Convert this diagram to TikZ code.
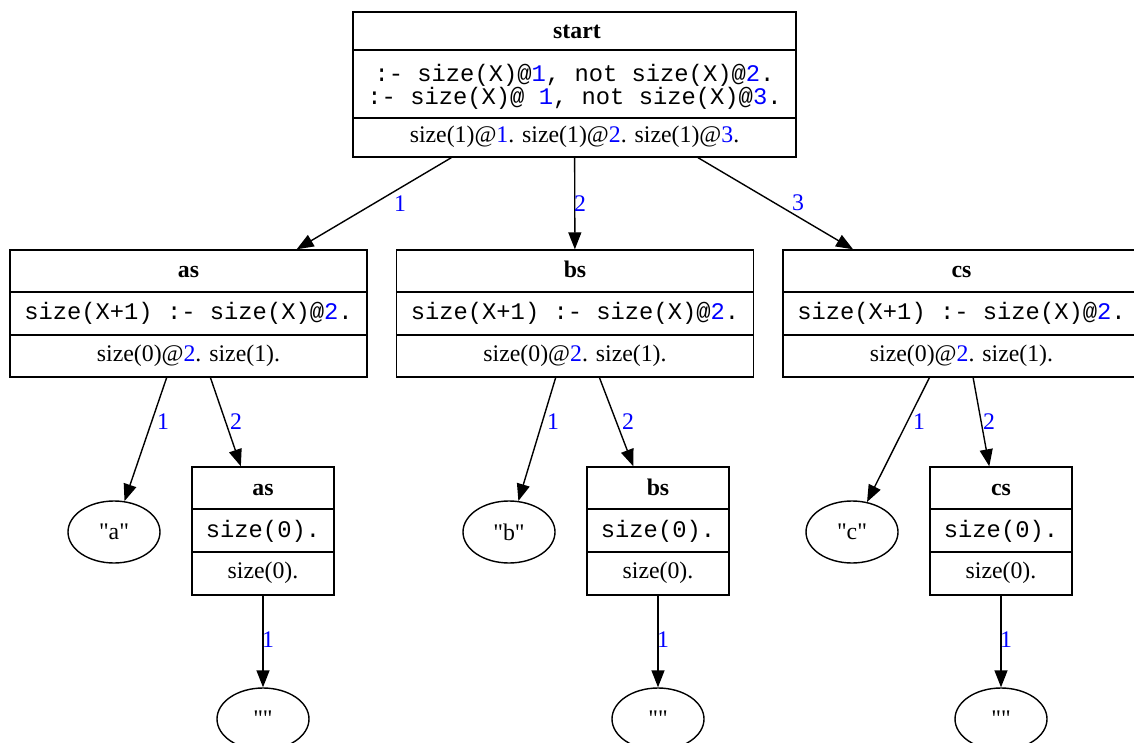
\documentclass[tikz,border=0pt]{standalone}
\usepackage{fontspec}
\setmainfont{Liberation Serif}
\setmonofont{Liberation Mono}
\newfontfamily\qfont{Liberation Serif}[Ligatures=TeXOff]
\usetikzlibrary{arrows.meta,shapes.geometric}
\newcommand\bl[1]{\textcolor{blue}{#1}}
\begin{document}
\begin{tikzpicture}[x=1pt,y=-1pt,line width=1.4pt,
  box/.style={draw,rectangle,inner sep=0pt},
  oval/.style={draw,ellipse,inner sep=0pt,minimum width=92pt,minimum height=62pt,font=\qfont\fontsize{23.8}{28}\selectfont},
  txt/.style={inner sep=0pt,font=\fontsize{23.8}{28}\selectfont},
  ttl/.style={inner sep=0pt,font=\fontsize{23.8}{28}\selectfont\bfseries},
  mono/.style={inner sep=0pt,font=\ttfamily\fontsize{23.8}{28}\selectfont},
  lbl/.style={inner sep=0pt,text=blue,font=\fontsize{23.8}{28}\selectfont},
  edge/.style={draw,-{Triangle[length=17pt,width=13pt]}}]
\useasboundingbox (0,0) rectangle (1134,743);
\clip (0,0) rectangle (1134,743);
% start box
\node[box,minimum width=443pt,minimum height=145pt] (start) at (574.5,84.5) {};
\draw (353,50) -- (796,50) (353,118) -- (796,118);
\node[ttl] (startt) at (577,32) {start};
\node[mono] (startm1) at (574.5,75) {:- size(X)@\bl{1}, not size(X)@\bl{2}.};
\node[mono] (startm2) at (574.5,98) {:- size(X)@ \bl{1}, not size(X)@\bl{3}.};
\node[txt] (startb) at (574.5,137) {size(1)@\bl{1}. size(1)@\bl{2}. size(1)@\bl{3}.};
% child boxes
\foreach \n/\cx/\l in {as/188.5/as,bs/575/bs,cs/961.5/cs}{
  \node[box,minimum width=357pt,minimum height=127pt] (\n) at (\cx,313.5) {};
  \draw (\cx-178.5,292) -- (\cx+178.5,292) (\cx-178.5,335) -- (\cx+178.5,335);
  \node[ttl,anchor=base] (\n t) at (\cx,277) {\l};
  \node[mono] (\n m) at (\cx,313) {size(X+1) :- size(X)@\bl{2}.};
  \node[txt] (\n b) at (\cx,356) {size(0)@\bl{2}. size(1).};
}
% small boxes
\foreach \n/\cx/\l in {as2/263/as,bs2/658/bs,cs2/1001/cs}{
  \node[box,minimum width=142pt,minimum height=128pt] (\n) at (\cx,531) {};
  \draw (\cx-71,509) -- (\cx+71,509) (\cx-71,552) -- (\cx+71,552);
  \node[ttl,anchor=base] (\n t) at (\cx,495) {\l};
  \node[mono] (\n m) at (\cx,531) {size(0).};
  \node[txt] (\n b) at (\cx,573) {size(0).};
}
% ellipses
\node[oval] (a) at (114,532) {"a"};
\node[oval] (b) at (509,532) {"b"};
\node[oval] (c) at (852,532) {"c"};
\node[oval] (ea) at (263,719) {""};
\node[oval] (eb) at (658,719) {""};
\node[oval] (ec) at (1001,719) {""};
% edges
\draw[edge] (start) -- (as) node[lbl,at={(400,204)}] {1};
\draw[edge] (start) -- (bs) node[lbl,at={(580,204)}] {2};
\draw[edge] (start) -- (cs) node[lbl,at={(798,203)}] {3};
\draw[edge] (as) -- (a) node[lbl,at={(163,422)}] {1};
\draw[edge] (as) -- (as2) node[lbl,at={(236,422)}] {2};
\draw[edge] (bs) -- (b) node[lbl,at={(553,422)}] {1};
\draw[edge] (bs) -- (bs2) node[lbl,at={(628,422)}] {2};
\draw[edge] (cs) -- (c) node[lbl,at={(919,422)}] {1};
\draw[edge] (cs) -- (cs2) node[lbl,at={(989,422)}] {2};
\draw[edge] (as2) -- (ea) node[lbl,at={(268,640)}] {1};
\draw[edge] (bs2) -- (eb) node[lbl,at={(663,640)}] {1};
\draw[edge] (cs2) -- (ec) node[lbl,at={(1006,640)}] {1};
\end{tikzpicture}
\end{document}
